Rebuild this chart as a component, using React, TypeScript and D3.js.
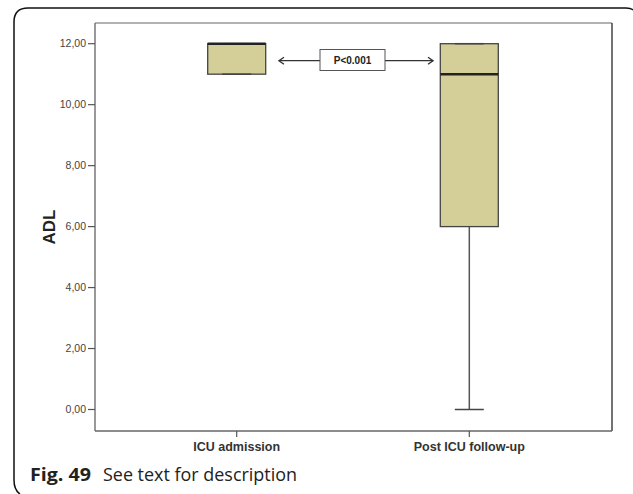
import React from "react";
import * as d3 from "d3";

const categories = ["ICU admission", "Post ICU follow-up"];
const whiskerLow = [11, 0];
const q1 = [11, 6];
const median = [12, 11];
const q3 = [12, 12];
const whiskerHigh = [12, 12];
const yTicks = [0, 2, 4, 6, 8, 10, 12];
const pLabel = "P<0.001";

export default function App() {
  const W = 633, H = 494;
  const fL = 95, fR = 612, fT = 23, fB = 431;
  const y = d3.scaleLinear().domain([0, 12]).range([409.5, 43.7]);
  const x = d3.scalePoint<string>().domain(categories).range([236.7, 469.3]);
  const boxW = 58, capW = 29;
  const fmt = (v: number) => v.toFixed(2).replace(".", ",");
  const arrowY = 60.7;
  return (
    <svg width={W} height={H} style={{ position: "absolute", left: 0, top: 0 }}>
      <rect width={W} height={H} fill="#fff" />
      <path d={`M 633 10 Q 631 8 626 8 L 28 8 Q 14 8 14 22 L 14 480 Q 14 490 20 494`} fill="none" stroke="#111" strokeWidth={1.5} />
      <line x1={fL} y1={fT} x2={fR} y2={fT} stroke="#999" strokeWidth={1.5} />
      <line x1={fR} y1={fT} x2={fR} y2={fB} stroke="#444" strokeWidth={1.5} />
      <line x1={fL} y1={fT} x2={fL} y2={fB} stroke="#777" strokeWidth={1.5} />
      <line x1={fL} y1={fB} x2={fR} y2={fB} stroke="#666" strokeWidth={1.5} />
      {yTicks.map((t) => (
        <g key={t}>
          <line x1={fL - 7} x2={fL} y1={y(t)} y2={y(t)} stroke="#555" strokeWidth={1.2} />
          <text x={fL - 9} y={y(t) + 3.5} textAnchor="end" fontFamily="Liberation Sans, Arial" fontSize={10.5} fill="#444">{fmt(t)}</text>
        </g>
      ))}
      {categories.map((c, i) => {
        const cx = x(c)!;
        return (
          <g key={c}>
            <line x1={cx} x2={cx} y1={fB} y2={fB + 6} stroke="#555" strokeWidth={1.2} />
            <text x={cx} y={fB + 20} textAnchor="middle" fontFamily="Liberation Sans, Arial" fontWeight="bold" fontSize={12.5} fill="#333">{c}</text>
            {whiskerLow[i] < q1[i] && <line x1={cx} x2={cx} y1={y(q1[i])} y2={y(whiskerLow[i])} stroke="#555" strokeWidth={1.5} />}
            {whiskerHigh[i] > q3[i] && <line x1={cx} x2={cx} y1={y(q3[i])} y2={y(whiskerHigh[i])} stroke="#555" strokeWidth={1.5} />}
            <rect x={cx - boxW / 2} y={y(q3[i])} width={boxW} height={y(q1[i]) - y(q3[i])} fill="#d4cf98" stroke="#444" strokeWidth={1.3} />
            <line x1={cx - capW / 2} x2={cx + capW / 2} y1={y(whiskerLow[i])} y2={y(whiskerLow[i])} stroke="#444" strokeWidth={1.5} />
            <line x1={cx - capW / 2} x2={cx + capW / 2} y1={y(whiskerHigh[i])} y2={y(whiskerHigh[i])} stroke="#444" strokeWidth={1.5} />
            <line x1={cx - boxW / 2} x2={cx + boxW / 2} y1={y(median[i])} y2={y(median[i])} stroke="#222" strokeWidth={2.5} />
          </g>
        );
      })}
      <line x1={279} x2={320} y1={arrowY} y2={arrowY} stroke="#333" strokeWidth={1.2} />
      <path d={`M 284 ${arrowY - 3.5} L 279 ${arrowY} L 284 ${arrowY + 3.5}`} fill="none" stroke="#333" strokeWidth={1.4} />
      <line x1={385} x2={433} y1={arrowY} y2={arrowY} stroke="#333" strokeWidth={1.2} />
      <path d={`M 428 ${arrowY - 3.5} L 433 ${arrowY} L 428 ${arrowY + 3.5}`} fill="none" stroke="#333" strokeWidth={1.4} />
      <rect x={320} y={49.5} width={65} height={21} fill="#fff" stroke="#555" strokeWidth={1} />
      <text x={352.5} y={64} textAnchor="middle" fontFamily="Liberation Sans, Arial" fontWeight="bold" fontSize={10} fill="#222">{pLabel}</text>
      <text transform={`translate(55,227) rotate(-90)`} textAnchor="middle" fontFamily="Liberation Sans, Arial" fontWeight="bold" fontSize={17} fill="#222">ADL</text>
      <text x={30} y={481} fontFamily="Open Sans, Noto Sans" fontSize={18} fontWeight="bold" fill="#222" textLength={61} lengthAdjust="spacingAndGlyphs">Fig. 49</text>
      <text x={103} y={481} fontFamily="Open Sans, Noto Sans" fontSize={18} fill="#222" textLength={194} lengthAdjust="spacingAndGlyphs">See text for description</text>
    </svg>
  );
}
